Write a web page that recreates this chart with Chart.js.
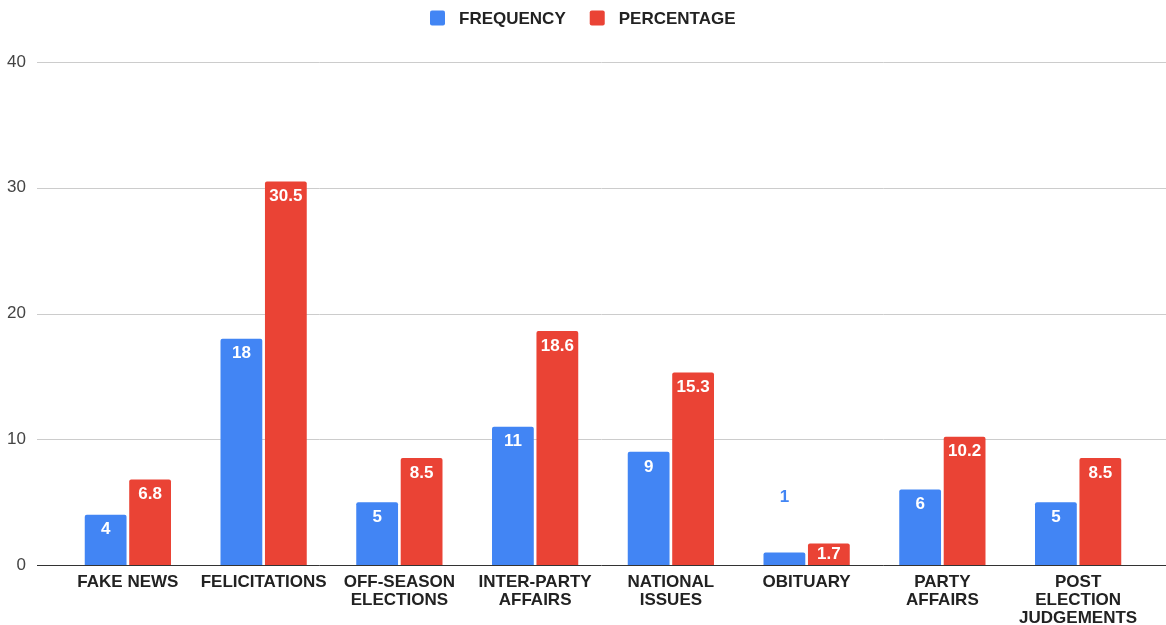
<!DOCTYPE html>
<html>
<head>
<meta charset="utf-8">
<script src="https://cdn.jsdelivr.net/npm/chart.js@4"></script>
<style>
  html, body { margin: 0; padding: 0; background: #fff; }
  #wrap { width: 1166px; height: 625px; }
</style>
</head>
<body>
<div id="wrap"><canvas id="myChart" width="1166" height="625"></canvas></div>
<script>
const categories = [
  'FAKE NEWS',
  'FELICITATIONS',
  ['OFF-SEASON', 'ELECTIONS'],
  ['INTER-PARTY', 'AFFAIRS'],
  ['NATIONAL', 'ISSUES'],
  'OBITUARY',
  ['PARTY', 'AFFAIRS'],
  ['POST', 'ELECTION', 'JUDGEMENTS']
];
const frequency = [4, 18, 5, 11, 9, 1, 6, 5];
const percentage = [6.8, 30.5, 8.5, 18.6, 15.3, 1.7, 10.2, 8.5];
const yTicks = [0, 10, 20, 30, 40];

const BLUE = '#4285F4';
const RED = '#EA4335';
const FONT = '"Liberation Sans", Arial, sans-serif';

// grid lines run wider than the bar area
const gridPlugin = {
  id: 'wideGrid',
  beforeDatasetsDraw(chart) {
    const ctx = chart.ctx;
    const y = chart.scales.y;
    ctx.save();
    yTicks.forEach(v => {
      const py = Math.round(y.getPixelForValue(v)) + 0.5;
      ctx.beginPath();
      ctx.strokeStyle = v === 0 ? '#333' : '#cccccc';
      ctx.lineWidth = 1;
      ctx.moveTo(37, py);
      ctx.lineTo(1166, py);
      ctx.stroke();
    });
    ctx.restore();
  }
};

// legend row centred across the top
const legendPlugin = {
  id: 'topLegend',
  afterDraw(chart) {
    const ctx = chart.ctx;
    ctx.save();
    ctx.font = 'bold 17px ' + FONT;
    ctx.textBaseline = 'middle';
    const items = chart.data.datasets.map(ds => ({
      text: ds.label, color: ds.backgroundColor, w: ctx.measureText(ds.label).width
    }));
    const box = 15, gapBox = 14, gapItem = 24, cy = 18;
    let total = 0;
    items.forEach((it, i) => { total += box + gapBox + it.w + (i ? gapItem : 0); });
    let x = Math.round((chart.width - total) / 2);
    items.forEach(it => {
      ctx.fillStyle = it.color;
      ctx.beginPath();
      ctx.roundRect(x, cy - box / 2, box, box, 2);
      ctx.fill();
      ctx.fillStyle = '#222';
      ctx.fillText(it.text, x + box + gapBox, cy + 1);
      x += box + gapBox + it.w + gapItem;
    });
    ctx.restore();
  }
};

// value labels inside the top of each bar, or above when the bar is too short
const valuePlugin = {
  id: 'values',
  afterDatasetsDraw(chart) {
    const ctx = chart.ctx;
    ctx.save();
    ctx.font = 'bold 17px ' + FONT;
    ctx.textAlign = 'center';
    ctx.textBaseline = 'middle';
    chart.data.datasets.forEach((ds, i) => {
      chart.getDatasetMeta(i).data.forEach((bar, j) => {
        const h = bar.base - bar.y;
        const txt = String(ds.data[j]);
        if (h < 18) {
          ctx.fillStyle = ds.backgroundColor;
          ctx.fillText(txt, bar.x, bar.y - 55);
        } else {
          ctx.fillStyle = '#ffffff';
          ctx.fillText(txt, bar.x, Math.min(bar.y + 15, (bar.y + bar.base) / 2));
        }
      });
    });
    ctx.restore();
  }
};

const ctx = document.getElementById('myChart').getContext('2d');
const chart = new Chart(ctx, {
  type: 'bar',
  data: {
    labels: categories,
    datasets: [
      {
        label: 'FREQUENCY',
        data: frequency,
        backgroundColor: BLUE,
        borderRadius: 2,
        borderSkipped: 'bottom',
        categoryPercentage: 0.655,
        barPercentage: 0.94
      },
      {
        label: 'PERCENTAGE',
        data: percentage,
        backgroundColor: RED,
        borderRadius: 2,
        borderSkipped: 'bottom',
        categoryPercentage: 0.655,
        barPercentage: 0.94
      }
    ]
  },
  plugins: [gridPlugin, valuePlugin, legendPlugin],
  options: {
    responsive: false,
    animation: false,
    layout: { padding: { left: 0, right: 20, top: 62, bottom: 0 } },
    plugins: {
      legend: { display: false },
      tooltip: { enabled: false }
    },
    scales: {
      x: {
        afterFit(scale) { scale.height = 60; },
        grid: { display: false, drawTicks: false },
        border: { display: false },
        ticks: {
          color: '#222',
          padding: 8,
          maxRotation: 0,
          autoSkip: false,
          font: { family: FONT, size: 17, weight: 'bold', lineHeight: '18px' }
        }
      },
      y: {
        min: 0,
        max: 40,
        afterFit(scale) { scale.width = 60; },
        grid: { display: false, drawTicks: false },
        border: { display: false },
        ticks: {
          stepSize: 10,
          color: '#444',
          padding: 34,
          font: { family: FONT, size: 17 }
        }
      }
    }
  }
});
</script>
</body>
</html>
